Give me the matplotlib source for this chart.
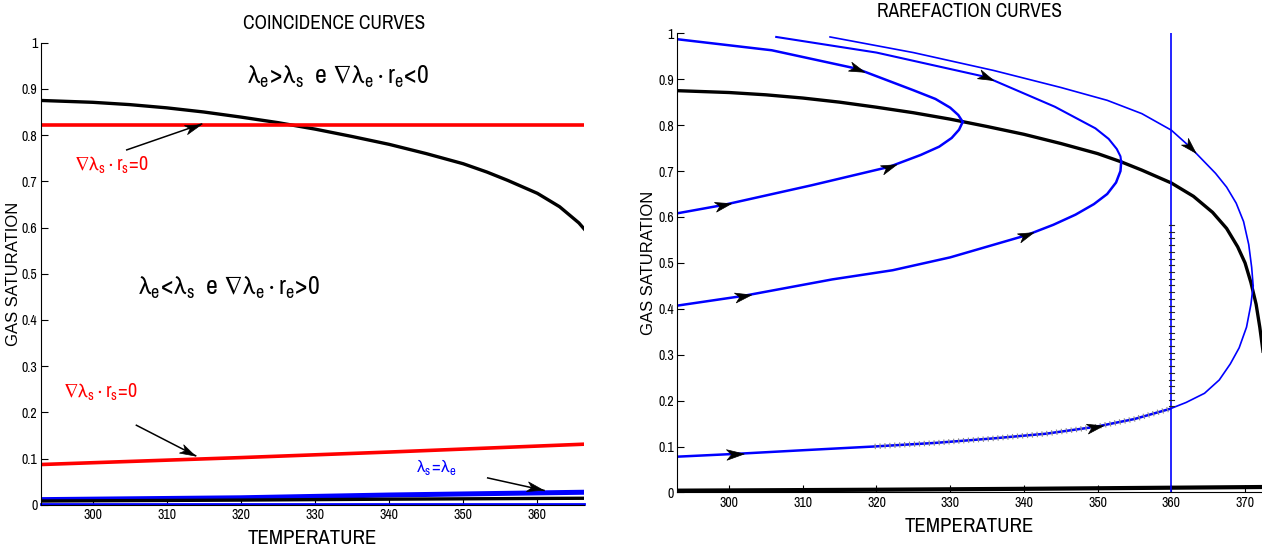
import numpy as np
import matplotlib.pyplot as plt
from matplotlib.path import Path
from matplotlib import patheffects as pe
from matplotlib import font_manager

# fonts: a narrow grotesque for text, a regular one for the y labels
names = set(f.name for f in font_manager.fontManager.ttflist)
narrow = next((n for n in ['Liberation Sans Narrow', 'Arial Narrow', 'Nimbus Sans Narrow',
                           'Archivo Narrow', 'Roboto Condensed', 'PT Sans Narrow',
                           'Fira Sans Condensed', 'IBM Plex Sans Condensed',
                           'Encode Sans Condensed', 'Asap Condensed', 'Pragati Narrow']
               if n in names), 'DejaVu Sans')
wide = 'Liberation Sans' if 'Liberation Sans' in names else 'DejaVu Sans'
plt.rcParams['font.family'] = [narrow, 'DejaVu Sans']
plt.rcParams['mathtext.fontset'] = 'custom'
plt.rcParams['mathtext.rm'] = narrow
plt.rcParams['mathtext.it'] = narrow
plt.rcParams['mathtext.fallback'] = 'stixsans'

# coincidence curve lambda_s = lambda_e
bk_T = [293, 300, 305, 310, 315, 320, 325, 330, 335, 340, 345, 350, 353.2, 356,
        360, 363, 365.6, 367.5, 369, 370, 370.8, 371.5, 372.0, 372.5]
bk_S = [0.875, 0.871, 0.866, 0.859, 0.850, 0.839, 0.827, 0.813, 0.797, 0.780,
        0.760, 0.738, 0.720, 0.702, 0.674, 0.645, 0.610, 0.575, 0.535, 0.500,
        0.457, 0.410, 0.360, 0.300]

# bottom loci near S=0
low_T = [293, 320, 340, 366.3]
low_blk = [0.008, 0.010, 0.012, 0.014]
low_blu = [0.011, 0.015, 0.021, 0.027]
low_blu0 = [0.002, 0.002, 0.002, 0.002]
low_r_T = [293, 320, 340, 373]
low_blk_r = [0.004, 0.006, 0.008, 0.012]

# grad(lambda_s).r_s = 0 loci
red_top_T = [293, 366.3]
red_top_S = [0.822, 0.822]
red_bot_T = [293, 320, 340, 366.3]
red_bot_S = [0.087, 0.102, 0.114, 0.131]

# rarefaction curves, upper / lower branch (flow left -> right)
c1_up_T = [293, 305.8, 317.3, 325, 328, 330, 331.1, 331.7]
c1_up_S = [0.987, 0.963, 0.923, 0.876, 0.857, 0.838, 0.822, 0.807]
c1_lo_T = [293, 299.2, 311.2, 321.7, 326, 328.5, 330.2, 331.2, 331.7]
c1_lo_S = [0.608, 0.626, 0.669, 0.709, 0.735, 0.753, 0.772, 0.790, 0.807]

c2_up_T = [306.4, 320, 334.8, 344.2, 349.7, 351.5, 352.6, 353.1, 353.2]
c2_up_S = [0.992, 0.958, 0.905, 0.840, 0.793, 0.770, 0.748, 0.732, 0.720]
c2_lo_T = [293, 301.9, 314, 322.2, 330, 340.3, 344, 347, 349.5, 351.3, 352.5, 353.1, 353.2]
c2_lo_S = [0.407, 0.428, 0.464, 0.484, 0.512, 0.560, 0.583, 0.605, 0.628, 0.650, 0.675, 0.700, 0.720]

c3_up_T = [313.7, 325, 335.9, 345, 351.3, 356, 360, 362.5, 366, 367.5, 368.8, 369.8, 370.5, 370.9, 371.1]
c3_up_S = [0.992, 0.958, 0.919, 0.882, 0.854, 0.825, 0.789, 0.753, 0.695, 0.665, 0.630, 0.590, 0.540, 0.490, 0.450]
c3_lo_T = [293, 300.8, 310, 319.5, 328, 336, 343, 349.7, 355, 359.8, 362, 364.5, 366.5, 368, 369.2, 370.2, 370.8, 371.1]
c3_lo_S = [0.078, 0.084, 0.092, 0.100, 0.108, 0.118, 0.128, 0.143, 0.160, 0.182, 0.196, 0.216, 0.245, 0.280, 0.315, 0.360, 0.410, 0.450]

T_line = 360

fig = plt.figure(figsize=(12.62, 5.51), dpi=100)
axL = fig.add_axes([0.0323, 0.084, 0.4305, 0.8385])
axR = fig.add_axes([0.5368, 0.1062, 0.4632, 0.8334])

yt = np.round(np.arange(0, 1.01, 0.1), 1)
for ax in (axL, axR):
    for s in ('top', 'right'):
        ax.spines[s].set_visible(False)
    ax.spines['left'].set_linewidth(0.8)
    ax.spines['bottom'].set_linewidth(0.8)
    ax.set_xticks(range(300, 371, 10))
    ax.set_yticks(yt)
    ax.set_yticklabels(['%g' % v for v in yt])
    ax.tick_params(direction='in', length=5, width=0.8, labelsize=10, pad=2.5)
    ax.set_xlabel('TEMPERATURE', fontsize=15, labelpad=5)
    ax.set_ylabel('GAS SATURATION', fontsize=12, family=wide)
    ax.yaxis.set_label_coords(-0.036, 0.5)
    ax.set_ylim(0, 1)
axL.set_xlim(293, 366.3)
axR.set_xlim(293, 372.3)

axL.set_title('COINCIDENCE CURVES', fontsize=14, pad=10, x=0.54)
axR.set_title('RAREFACTION CURVES', fontsize=14, pad=12)

def head(ax, xs, ys, x, y, ms=13, tip=False):
    # notched black arrowhead along the curve (xs, ys)
    pts = ax.transData.transform(np.column_stack([xs, ys]))
    p = ax.transData.transform((x, y))
    k = int(np.argmin(np.hypot(*(pts - p).T)))
    k = min(k, len(pts) - 2)
    d = pts[k + 1] - pts[k]
    a = np.arctan2(d[1], d[0])
    v = np.array([(1, 0), (-1, 0.6), (-0.45, 0), (-1, -0.6), (1, 0)])
    R = np.array([[np.cos(a), -np.sin(a)], [np.sin(a), np.cos(a)]])
    v = v @ R.T
    v = v / np.abs(v).max()
    if tip:
        px = ms * fig.dpi / 72 / 2
        p = p - px * np.array([np.cos(a), np.sin(a)])
        x, y = ax.transData.inverted().transform(p)
    m = Path(v, [Path.MOVETO, Path.LINETO, Path.LINETO, Path.LINETO, Path.CLOSEPOLY])
    ax.plot(x, y, marker=m, ms=ms, color='k', mec='k', mew=0.5, zorder=6, clip_on=False)

def arrow(ax, tail, tip):
    ax.plot([tail[0], tip[0]], [tail[1], tip[1]], color='k', lw=1.1, zorder=5)
    head(ax, [tail[0], tip[0]], [tail[1], tip[1]], tip[0], tip[1], ms=13, tip=True)

# ---- coincidence curves ----
axL.plot(bk_T, bk_S, color='k', lw=2.4)
axL.plot(red_top_T, red_top_S, color='r', lw=2.6)
axL.plot(red_bot_T, red_bot_S, color='r', lw=2.6)
axL.plot(low_T, low_blu, color='b', lw=3.6)
axL.plot(low_T, low_blk, color='k', lw=2.4)
axL.plot(low_T, low_blu0, color='b', lw=2.0, clip_on=False)

lam = r'\mathrm{\lambda}'
nab = r'\mathrm{\nabla}'
top_txt = r'$%s_e\!>\!%s_s\ \ \mathrm{e}\ %s%s_e\cdot r_e\!<\!0$' % (lam, lam, nab, lam)
bot_txt = r'$%s_e\!<\!%s_s\ \ \mathrm{e}\ %s%s_e\cdot r_e\!>\!0$' % (lam, lam, nab, lam)
red_txt = r'$%s%s_s\cdot r_s\!=\!0$' % (nab, lam)
axL.text(333.1, 0.925, top_txt, ha='center', va='center', fontsize=18.5)
axL.text(318.4, 0.47, bot_txt, ha='center', va='center', fontsize=18.5)
axL.text(302.5, 0.735, red_txt, ha='center', va='center', fontsize=14.5, color='r')
axL.text(301.1, 0.243, red_txt, ha='center', va='center', fontsize=14.5, color='r')
axL.text(346.4, 0.082, r'$%s_s\!=\!%s_e$' % (lam, lam), ha='center', va='center',
         fontsize=13, color='b')
arrow(axL, (304.6, 0.768), (314.7, 0.824))
arrow(axL, (305.9, 0.172), (313.9, 0.106))
arrow(axL, (353.3, 0.058), (360.9, 0.031))

# ---- rarefaction curves ----
axR.plot(bk_T, bk_S, color='k', lw=2.4)
axR.plot(low_r_T, low_blk_r, color='k', lw=3.0)
axR.plot([T_line, T_line], [0, 1], color='b', lw=1.2)

axR.plot(c1_up_T, c1_up_S, color='b', lw=1.8)
axR.plot(c1_lo_T, c1_lo_S, color='b', lw=1.8)
axR.plot(c2_up_T, c2_up_S, color='b', lw=1.5)
axR.plot(c2_lo_T, c2_lo_S, color='b', lw=1.8)
axR.plot(c3_up_T, c3_up_S, color='b', lw=1.2)
k = c3_lo_T.index(359.8)
axR.plot(c3_lo_T[:k + 1], c3_lo_S[:k + 1], color='b', lw=1.8)
axR.plot(c3_lo_T[k:], c3_lo_S[k:], color='b', lw=1.2)

# sampled portions drawn with ticks
seg = slice(c3_lo_T.index(319.5), k + 1)
for ang in (90, -90):
    axR.plot(c3_lo_T[seg], c3_lo_S[seg], color='none', lw=1,
             path_effects=[pe.withTickedStroke(angle=ang, spacing=3.5, length=0.45,
                                               foreground='0.55', linewidth=0.8)])
    axR.plot([T_line, T_line], [0.18, 0.59], color='none', lw=1,
             path_effects=[pe.withTickedStroke(angle=ang, spacing=4.8, length=0.4,
                                               foreground='0.15', linewidth=0.8)])

head(axR, c1_up_T, c1_up_S, 317.3, 0.923)
head(axR, c2_up_T, c2_up_S, 334.8, 0.905)
head(axR, c3_up_T, c3_up_S, 362.5, 0.753)
head(axR, c1_lo_T, c1_lo_S, 299.2, 0.626)
head(axR, c1_lo_T, c1_lo_S, 321.7, 0.709)
head(axR, c2_lo_T, c2_lo_S, 301.9, 0.428)
head(axR, c2_lo_T, c2_lo_S, 340.3, 0.560)
head(axR, c3_lo_T, c3_lo_S, 300.8, 0.084)
head(axR, c3_lo_T, c3_lo_S, 349.7, 0.143)

fig.savefig('out.png', dpi=100)
